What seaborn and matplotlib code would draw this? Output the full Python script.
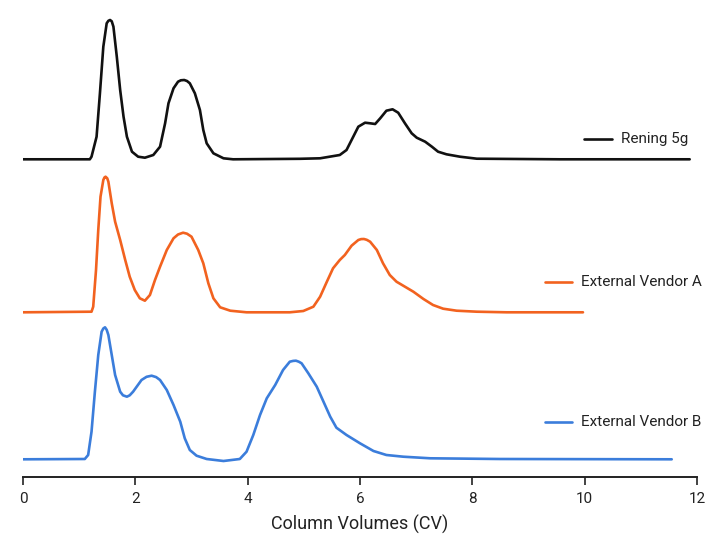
import numpy as np
import pandas as pd
import seaborn as sns
import matplotlib
import matplotlib.pyplot as plt

matplotlib.use('Agg')

# Traces (x in column volumes, signal in arbitrary units)
black_cv = [0.00, 1.19, 1.22, 1.31, 1.37, 1.43, 1.49, 1.52, 1.55, 1.58, 1.61, 1.67,
            1.73, 1.79, 1.85, 1.94, 2.05, 2.17, 2.32, 2.44, 2.53, 2.59, 2.68, 2.76,
            2.81, 2.87, 2.92, 2.97, 3.06, 3.15, 3.21, 3.27, 3.39, 3.57, 3.74, 4.93,
            5.29, 5.64, 5.76, 5.88, 5.97, 6.09, 6.18, 6.27, 6.36, 6.47, 6.58, 6.68,
            6.80, 6.92, 7.01, 7.16, 7.28, 7.39, 7.54, 7.78, 8.08, 9.56, 11.87]
black_signal = [0.0, 0.0, 2.6, 22.6, 66.3, 112.6, 136.0, 138.5, 139.3, 138.0, 132.6, 102.6,
                69.3, 42.6, 22.6, 7.6, 2.6, 1.6, 4.3, 12.6, 36.0, 56.0, 71.0, 77.6,
                79.0, 79.3, 78.3, 76.0, 66.0, 49.3, 29.3, 16.0, 6.0, 1.0, 0.0, 0.5,
                1.0, 4.3, 9.3, 22.6, 32.6, 36.6, 36.0, 35.3, 41.0, 48.6, 50.0, 46.6,
                36.0, 26.0, 21.6, 17.6, 12.6, 7.6, 5.0, 2.6, 0.6, 0.0, 0.0]

orange_cv = [0.00, 1.22, 1.25, 1.30, 1.34, 1.38, 1.43, 1.45, 1.47, 1.50, 1.52, 1.58,
             1.64, 1.73, 1.82, 1.90, 1.99, 2.08, 2.17, 2.26, 2.35, 2.44, 2.56, 2.68,
             2.76, 2.85, 2.92, 3.00, 3.12, 3.21, 3.30, 3.39, 3.51, 3.69, 3.98, 4.75,
             4.99, 5.17, 5.29, 5.41, 5.52, 5.64, 5.73, 5.85, 5.97, 6.02, 6.07, 6.12,
             6.18, 6.30, 6.41, 6.53, 6.65, 6.80, 6.95, 7.13, 7.30, 7.48, 7.72, 8.08,
             8.61, 9.97]
orange_signal = [0.0, 0.6, 5.6, 42.3, 82.3, 115.6, 132.3, 134.8, 135.6, 134.0, 130.6, 109.0,
                 90.6, 72.3, 52.3, 35.6, 22.3, 14.0, 11.6, 17.3, 32.3, 45.6, 62.3, 74.0,
                 77.8, 79.6, 78.6, 75.6, 62.3, 49.0, 29.0, 14.0, 5.0, 1.6, 0.0, 0.0,
                 1.3, 5.6, 15.6, 30.6, 44.0, 52.3, 57.3, 66.6, 72.3, 73.2, 73.3, 72.5,
                 70.6, 62.3, 49.0, 37.3, 30.6, 25.6, 20.6, 13.3, 7.3, 3.6, 1.6, 0.6,
                 0.0, 0.0]

blue_cv = [0.00, 1.10, 1.16, 1.22, 1.28, 1.34, 1.40, 1.43, 1.46, 1.49, 1.52, 1.58,
           1.64, 1.73, 1.78, 1.85, 1.90, 1.96, 2.11, 2.20, 2.29, 2.37, 2.44, 2.56,
           2.68, 2.80, 2.88, 2.97, 3.09, 3.27, 3.57, 3.86, 3.98, 4.10, 4.22, 4.34,
           4.49, 4.63, 4.75, 4.81, 4.86, 4.91, 4.96, 5.08, 5.23, 5.35, 5.47, 5.58,
           5.76, 6.00, 6.24, 6.47, 6.77, 7.25, 8.49, 11.55]
blue_signal = [0.0, 0.3, 4.3, 27.6, 67.6, 104.3, 127.6, 130.8, 132.0, 129.5, 124.3, 104.3,
               84.3, 67.6, 64.0, 62.6, 64.0, 67.6, 79.3, 82.5, 83.6, 82.2, 79.3, 69.3,
               54.3, 37.6, 21.0, 9.3, 3.6, 0.3, -1.7, 0.3, 7.6, 24.3, 44.3, 61.0,
               74.3, 89.3, 97.6, 98.4, 98.6, 97.6, 96.0, 86.0, 72.6, 57.6, 42.6, 31.6,
               24.3, 16.0, 8.3, 4.3, 2.6, 1.0, 0.3, 0.0]

names = ['Rening 5g', 'External Vendor A', 'External Vendor B']
offsets = [317.7, 164.7, 17.7]
colors = ['#111111', '#f2621f', '#3b7ddb']

frames = []
for name, cv, sig, off in zip(names, [black_cv, orange_cv, blue_cv],
                              [black_signal, orange_signal, blue_signal], offsets):
    frames.append(pd.DataFrame({'cv': cv, 'y': np.array(sig) + off, 'sample': name}))
df = pd.concat(frames, ignore_index=True)

sns.set_theme(style='white')
plt.rcParams['font.family'] = ['Roboto', 'DejaVu Sans']

fig = plt.figure(figsize=(7.2, 5.4), dpi=100)
ax = fig.add_axes([23 / 720, 63 / 540, 674 / 720, 472 / 540])

sns.lineplot(data=df, x='cv', y='y', hue='sample', palette=dict(zip(names, colors)),
             estimator=None, sort=False, linewidth=1.9, legend=False, ax=ax)
for line in ax.lines:
    line.set_solid_joinstyle('round')

# inline key for each trace
key_pos = [(0.832, 0.874, 0.716), (0.774, 0.815, 0.413), (0.774, 0.815, 0.117)]
for name, col, (x0, x1, yk) in zip(names, colors, key_pos):
    ax.plot([x0, x1], [yk, yk], color=col, lw=1.9, transform=ax.transAxes)
    ax.text(x1 + 0.013, yk, name, transform=ax.transAxes, va='center', ha='left',
            fontsize=11, color='#222222')

ax.set_xlim(0, 12)
ax.set_ylim(0, 472)
ax.set_xticks([0, 2, 4, 6, 8, 10, 12])
ax.set_yticks([])
ax.set_ylabel('')
ax.set_xlabel('Column Volumes (CV)', fontsize=13, color='#222222', labelpad=6)
ax.tick_params(axis='x', bottom=True, direction='out', length=6, width=1.2,
               color='#222222', labelsize=11, labelcolor='#222222', pad=5)
sns.despine(ax=ax, left=True)
ax.spines['bottom'].set_color('#222222')
ax.spines['bottom'].set_linewidth(1.4)

fig.savefig('out.png', dpi=100, facecolor='white')
plt.close(fig)
